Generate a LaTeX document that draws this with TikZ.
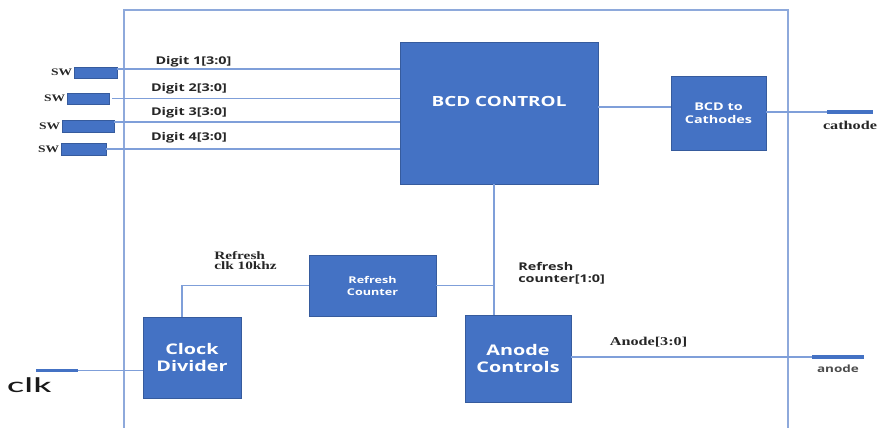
\documentclass[tikz,border=0pt]{standalone}
\usepackage{fontspec}
\usetikzlibrary{positioning}
\setmainfont{Liberation Serif}
\newfontfamily\blockfont{Open Sans}
\newfontfamily\clkfont{Carlito}
\definecolor{blockblue}{HTML}{4472C4}
\definecolor{wireblue}{HTML}{7F9FD9}
\definecolor{frameblue}{HTML}{8EA9DB}
% horizontally widened text
\newcommand\wt[1]{\scalebox{1.35}[1]{#1}}
\begin{document}
\begin{tikzpicture}[x=0.75pt,y=-0.75pt,
  blk/.style={draw=blockblue!80!black, line width=0.4pt, fill=blockblue,
    text=white, inner sep=0pt, align=center},
  swbox/.style={fill=blockblue, draw=blockblue!80!black, line width=0.3pt,
    inner sep=0pt, minimum height=8.6pt},
  pinbar/.style={fill=blockblue, inner sep=0pt, minimum height=2.4pt},
  wire/.style={draw=wireblue, line width=1pt},
  frame/.style={draw=frameblue, line width=1.5pt},
  sanslab/.style={inner sep=0pt, text=black!85,
    font=\blockfont\bfseries\fontsize{8}{9}\selectfont},
  seriflab/.style={inner sep=0pt, text=black!85,
    font=\bfseries\fontsize{9}{10}\selectfont},
  swlab/.style={inner sep=1pt, text=black!85,
    font=\bfseries\fontsize{7.5}{8}\selectfont}
]
\useasboundingbox (0,0) rectangle (881,428);

% enclosing module frame (open at the bottom)
\draw[frame] (124,428) -- (124,10) -- (788,10) -- (788,428);

% functional blocks
\node[blk, minimum width=148.5pt, minimum height=106.5pt,
  font=\blockfont\bfseries\fontsize{10.5}{12}\selectfont]
  (bcd) at (499,113) {\wt{BCD CONTROL}\\[6pt]};
\node[blk, minimum width=71.25pt, minimum height=55.5pt,
  font=\blockfont\bfseries\fontsize{8}{9.75}\selectfont]
  (cath) at (718.5,113) {\wt{BCD to}\\\wt{Cathodes}};
\node[blk, minimum width=95.25pt, minimum height=45.75pt,
  font=\blockfont\bfseries\fontsize{7}{9}\selectfont]
  (rc) at (372.5,285.5) {\wt{Refresh}\\\wt{Counter}};
\node[blk, minimum width=73.5pt, minimum height=60.75pt,
  font=\blockfont\bfseries\fontsize{11}{12.75}\selectfont]
  (cd) at (192,357.5) {\wt{Clock}\\\wt{Divider}};
\node[blk, minimum width=79.5pt, minimum height=65.25pt,
  font=\blockfont\bfseries\fontsize{11}{12.75}\selectfont]
  (an) at (518,358.5) {\wt{Anode}\\\wt{Controls}};

% switch inputs
\node[swbox, minimum width=32.25pt] (sw1) at (95.5,72.5) {};
\node[swbox, minimum width=31.5pt]  (sw2) at (88,98.5) {};
\node[swbox, minimum width=39pt]    (sw3) at (88,126) {};
\node[swbox, minimum width=33.75pt] (sw4) at (83.5,149) {};
\node[swlab, left=0pt of sw1] (swl1) {\wt{SW}};
\node[swlab, left=0pt of sw2] (swl2) {\wt{SW}};
\node[swlab, left=0pt of sw3] (swl3) {\wt{SW}};
\node[swlab, left=0pt of sw4] (swl4) {\wt{SW}};

% output and clock pins
\node[pinbar, minimum width=34.5pt] (cbar) at (850,112) {};
\node[pinbar, minimum width=39pt, minimum height=3pt] (abar) at (838,357) {};
\node[pinbar, minimum width=31.5pt] (kbar) at (57,370.5) {};

% digit buses into the BCD control
\coordinate (d1) at ([yshift=2.6pt]sw1.east);
\coordinate (d2) at ([xshift=2.25pt]sw2.east);
\coordinate (d3) at ([yshift=3pt]sw3.east);
\coordinate (d4) at (sw4.east);
\draw[wire] (d1) -- (d1 -| bcd.west);
\draw[wire] (d2) -- (d2 -| bcd.west);
\draw[wire] (d3) -- (d3 -| bcd.west);
\draw[wire] (d4) -- (d4 -| bcd.west);
\node[sanslab] (l1) at (193.5,62) {\wt{Digit 1[3:0]}};
\node[sanslab] (l2) at (189,89) {\wt{Digit 2[3:0]}};
\node[sanslab] (l3) at (189,113) {\wt{Digit 3[3:0]}};
\node[sanslab] (l4) at (189,138) {\wt{Digit 4[3:0]}};

% BCD control to cathode decoder and out
\coordinate (bo) at ([yshift=4.5pt]bcd.east);
\draw[wire] (bo) -- (bo -| cath.west);
\draw[wire] (cath.east |- cbar.west) -- (cbar.west);
\node[seriflab, below=5pt of cbar] (cl) {\wt{cathode}};

% refresh counter select line
\coordinate (vx) at ([xshift=-3.75pt]bcd.south);
\draw[wire] (vx) -- (vx |- an.north);
\draw[wire] (rc.east) -- (rc.east -| vx);
\node[sanslab, align=left, anchor=north west,
  font=\blockfont\bfseries\fontsize{8}{9}\selectfont]
  (rcl) at (518,262) {\wt{Refresh}\\\wt{counter[1:0]}};

% divided clock to the refresh counter
\coordinate (cdo) at ([xshift=-7.5pt]cd.north);
\draw[wire] (cdo) |- (rc.west);
\node[seriflab, align=left, anchor=north west,
  font=\bfseries\fontsize{8.5}{7.5}\selectfont]
  (rfl) at (214,251) {\wt{Refresh}\\\wt{clk 10khz}};

% clock input
\draw[wire] (kbar.east) -- (kbar.east -| cd.west);
\node[inner sep=0pt, text=black!90, font=\clkfont\fontsize{16}{17}\selectfont]
  (kl) at (29.5,385) {\scalebox{1.9}[1]{clk}};

% anode outputs
\draw[wire] (an.east |- abar.west) -- (abar.west);
\node[seriflab] (al) at (648.5,342) {\wt{Anode[3:0]}};
\node[sanslab, text=black!70, below=4pt of abar,
  font=\blockfont\bfseries\fontsize{7.5}{8}\selectfont] (apl) {\wt{anode}};
\end{tikzpicture}
\end{document}
